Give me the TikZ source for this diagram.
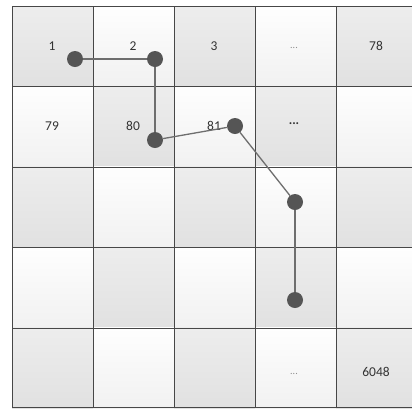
\documentclass[tikz,border=0pt]{standalone}
\usepackage{fontspec}
\setmainfont{Carlito}
\definecolor{grayTop}{HTML}{EDEDED}
\definecolor{grayBot}{HTML}{E1E1E1}
\definecolor{liteTop}{HTML}{FEFEFE}
\definecolor{liteBot}{HTML}{F1F1F1}
\definecolor{gridc}{HTML}{474747}
\definecolor{dotc}{HTML}{555555}
\definecolor{linkc}{HTML}{6E6E6E}
\definecolor{txt}{HTML}{333333}
\tikzset{
  graycell/.style={top color=grayTop,bottom color=grayBot},
  litecell/.style={top color=liteTop,bottom color=liteBot},
  gridline/.style={draw=gridc,line width=1pt},
  dotnode/.style={circle,fill=dotc,minimum size=16pt,inner sep=0pt},
  linkline/.style={draw=linkc,line width=1.3pt},
  label/.style={text=txt,font=\fontsize{13.5}{15}\selectfont,inner sep=0pt},
  faint/.style={text=black!45,font=\fontsize{10}{12}\selectfont,inner sep=0pt}
}
\begin{document}
\begin{tikzpicture}[x=1pt,y=-1pt]
\useasboundingbox (0,0) rectangle (412,408);
\fill[white] (0,0) rectangle (412,408);
% cells
\foreach \i in {0,...,4}{
  \foreach \j in {0,...,4}{
    \pgfmathsetmacro\xa{12+81*\i}
    \pgfmathsetmacro\xb{min(12+81*(\i+1),412)}
    \pgfmathsetmacro\ya{6+80.4*\j}
    \pgfmathsetmacro\yb{6+80.4*(\j+1)}
    \pgfmathtruncatemacro\p{mod(\i+\j,2)}
    \ifnum\p=0
      \shade[graycell] (\xa,\ya) rectangle (\xb,\yb);
    \else
      \shade[litecell] (\xa,\ya) rectangle (\xb,\yb);
    \fi
  }
}
% grid lines
\foreach \y in {6,86,167,247,328,407.3}{
  \draw[gridline] (12,\y) -- (412,\y);
}
\foreach \x in {12,93,174,255,336}{
  \draw[gridline] (\x,6) -- (\x,407.3);
}
% labels
\node[label] (t1) at (52,46) {1};
\node[label] (t2) at (133,46) {2};
\node[label] (t3) at (214,46) {3};
\node[faint] (t4) at (294,48) {...};
\node[label] (t78) at (376,46) {78};
\node[label] (t79) at (52,126) {79};
\node[label] (t80) at (133,126) {80};
\node[label] (t81) at (214,126) {81};
\node[label,font=\fontsize{13}{15}\selectfont\bfseries] (t82) at (294,124) {...};
\node[faint] (t5) at (294,374) {...};
\node[label] (t6048) at (376,372) {6048};
% dots
\node[dotnode] (d1) at (75,59) {};
\node[dotnode] (d2) at (155,59) {};
\node[dotnode] (d3) at (155,140) {};
\node[dotnode] (d4) at (235,126) {};
\node[dotnode] (d5) at (295,202) {};
\node[dotnode] (d6) at (295,300) {};
% links
\draw[linkline] (d1) -- (d2);
\draw[linkline] (d2) -- (d3);
\draw[linkline] (d3) -- (d4);
\draw[linkline] (d4) -- (d5);
\draw[linkline] (d5) -- (d6);
\end{tikzpicture}
\end{document}
